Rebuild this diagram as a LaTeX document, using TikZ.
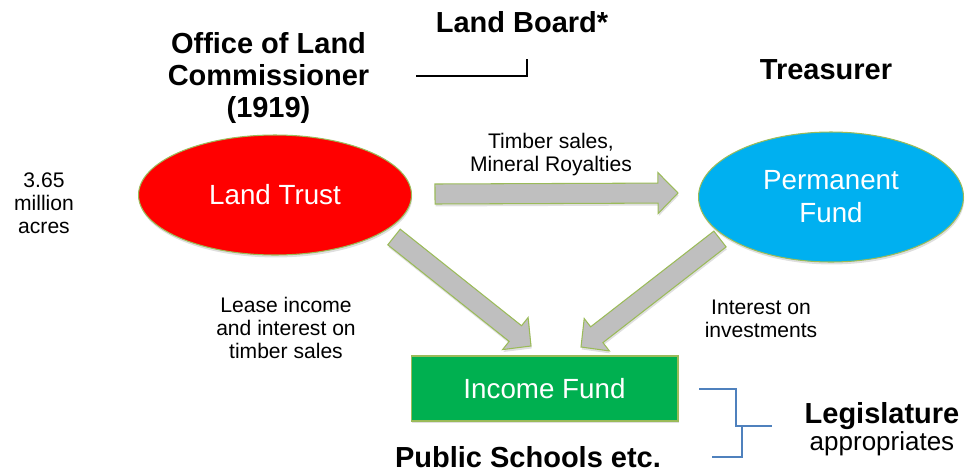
\documentclass[tikz,border=0pt]{standalone}
\usepackage{fontspec}
\setmainfont{Liberation Sans}
\usetikzlibrary{shapes.geometric,calc,shadows}
\definecolor{trustred}{RGB}{255,0,0}
\definecolor{fundblue}{RGB}{0,176,240}
\definecolor{incomegreen}{RGB}{0,176,80}
\definecolor{rimgreen}{RGB}{155,187,89}
\definecolor{arrowgray}{RGB}{191,191,191}
\definecolor{bracketblue}{RGB}{79,129,189}
\tikzset{
  softshadow/.style={drop shadow={shadow xshift=0.4pt, shadow yshift=-1.4pt, opacity=0.25}},
  fundshape/.style={ellipse, draw=rimgreen, line width=0.6pt, text=white, align=center,
    font=\fontsize{15.8}{18.8}\selectfont, softshadow},
  blockarrow/.style={fill=arrowgray, draw=rimgreen, line width=0.6pt, softshadow},
  heading/.style={font=\bfseries\fontsize{16.5}{18.2}\selectfont, align=center},
  note/.style={font=\fontsize{12}{13}\selectfont, align=center},
}

\begin{document}
\begin{tikzpicture}[x=0.02cm, y=-0.02cm]
	\useasboundingbox (0,0) rectangle (965,474);
	% funds
	\node[fundshape, fill=trustred, minimum width=5.46cm, minimum height=2.4cm] (trust) at (275,195) {Land Trust};
	\node[fundshape, fill=fundblue, minimum width=5.3cm, minimum height=2.6cm] (perm) at (831,197) {Permanent\\Fund};
	\node[draw=rimgreen, line width=0.6pt, fill=incomegreen, text=white, softshadow,
		minimum width=5.34cm, minimum height=1.3cm, font=\fontsize{15.8}{18.8}\selectfont] (income) at (544.5,388.5) {Income Fund};
	% block arrows
	\coordinate (sales-tail) at (435,194);
	\coordinate (sales-tip) at (678,193);
	\coordinate (lease-tail) at (394,237);
	\coordinate (lease-tip) at (531,346);
	\coordinate (interest-tail) at (720,239);
	\coordinate (interest-tip) at (581,347);
	\foreach \tail/\tip in {sales-tail/sales-tip, lease-tail/lease-tip, interest-tail/interest-tip} {
		\coordinate (hb) at ($(\tip)!0.4cm!(\tail)$);
		\draw[blockarrow] ($(\tail)!0.2cm!90:(\tip)$) -- ($(hb)!0.2cm!90:(\tip)$)
			-- ($(hb)!0.41cm!90:(\tip)$) -- (\tip) -- ($(hb)!0.41cm!-90:(\tip)$)
			-- ($(hb)!0.2cm!-90:(\tip)$) -- ($(\tail)!0.2cm!-90:(\tip)$) -- cycle;
	}
	% labels (base = last line)
	\node[heading, anchor=base] (board) at (522,32) {Land Board*};
	\node[heading, anchor=base] (office) at (268.5,117) {Office of Land\\Commissioner\\(1919)};
	\node[heading, anchor=base] (treasurer) at (826,79) {Treasurer};
	\node[note, anchor=base] (acres) at (44,233) {3.65\\million\\acres};
	\node[note, anchor=base] (sales) at (551,171) {Timber sales,\\Mineral Royalties};
	\node[note, anchor=base] (lease) at (286,358) {Lease income\\and interest on\\timber sales};
	\node[note, anchor=base] (interest) at (761,337) {Interest on\\investments};
	\node[heading, anchor=base] (schools) at (528,467) {Public Schools etc.};
	\node[heading, anchor=base] (legis) at (882,423) {Legislature};
	\node[font=\fontsize{14.8}{16}\selectfont, anchor=base] (approp) at (882,450) {appropriates};
	% brackets
	\draw[line width=1pt] (416,76) -- (527,76) -- (527,59);
	\draw[bracketblue, line width=1.1pt] (699,389) -| (736,426) -- (772,426);
	\draw[bracketblue, line width=1.1pt] (742,427) |- (712,457);
\end{tikzpicture}
\end{document}
